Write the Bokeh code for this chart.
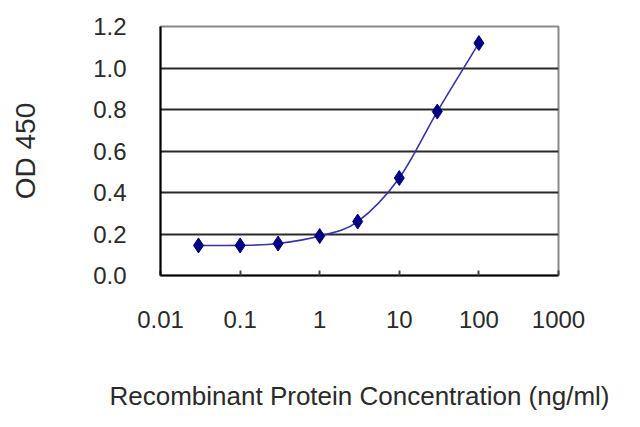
import numpy as np
from bokeh.plotting import figure
from bokeh.models import FixedTicker, CustomJSTickFormatter, Range1d
from bokeh.embed import file_html
from bokeh.resources import INLINE

conc = [0.03, 0.1, 0.3, 1, 3, 10, 30, 100]
od450 = [0.145, 0.145, 0.154, 0.19, 0.26, 0.47, 0.79, 1.12]

x_ticks = [0.01, 0.1, 1, 10, 100, 1000]
x_tick_labels = ["0.01", "0.1", "1", "10", "100", "1000"]
y_ticks = [0.0, 0.2, 0.4, 0.6, 0.8, 1.0, 1.2]
y_grid = [0.2, 0.4, 0.6, 0.8, 1.0]

FONT = "Liberation Sans"
TEXT = "#2a2a2a"
NAVY = "#000080"

p = figure(
    width=624, height=415,
    x_axis_type="log",
    x_range=Range1d(0.01, 1000), y_range=Range1d(0, 1.2),
    output_backend="svg", toolbar_location=None,
    min_border_left=160, min_border_right=66,
    min_border_top=26, min_border_bottom=140,
    x_axis_label="Recombinant Protein Concentration (ng/ml)",
    y_axis_label="OD 450",
)
p.background_fill_color = "white"
p.outline_line_color = "#8a8a8a"
p.outline_line_width = 2

# axes
for ax in (p.xaxis, p.yaxis):
    ax.axis_line_color = "black"
    ax.axis_line_width = 2
    ax.major_label_text_font = FONT
    ax.major_label_text_font_size = "24px"
    ax.major_label_text_color = TEXT
    ax.axis_label_text_font = FONT
    ax.axis_label_text_font_style = "normal"
    ax.axis_label_text_color = TEXT
    ax.minor_tick_line_color = None

p.xaxis.axis_label_text_font_size = "26px"
p.yaxis.axis_label_text_font_size = "28px"

p.xaxis.ticker = FixedTicker(ticks=x_ticks)
p.xaxis.formatter = CustomJSTickFormatter(
    args=dict(vals=x_ticks, labs=x_tick_labels),
    code="const i = vals.findIndex(v => Math.abs(Math.log10(v) - Math.log10(tick)) < 1e-6); return i >= 0 ? labs[i] : '';",
)
p.xaxis.major_tick_in = 5
p.xaxis.major_tick_out = 0
p.xaxis.major_tick_line_width = 2
p.xaxis.major_tick_line_color = "#444444"
p.xaxis.major_label_standoff = 35
p.xaxis.axis_label_standoff = 50

p.yaxis.ticker = FixedTicker(ticks=y_ticks)
p.yaxis.formatter = CustomJSTickFormatter(code="return tick.toFixed(1);")
p.yaxis.major_tick_in = 0
p.yaxis.major_tick_out = 0
p.yaxis.major_label_standoff = 34
p.yaxis.axis_label_standoff = 49

p.xgrid.grid_line_color = None
p.ygrid.ticker = FixedTicker(ticks=y_grid)
p.ygrid.grid_line_color = "#2a2a2a"
p.ygrid.grid_line_width = 2

# smooth curve through the points (Catmull-Rom in log-x space)
lx = np.log10(conc)
ly = np.array(od450)
n = len(lx)
x0, y0, x1, y1, cx0, cy0, cx1, cy1 = [], [], [], [], [], [], [], []
for i in range(n - 1):
    a = max(i - 1, 0)
    b = min(i + 2, n - 1)
    x0.append(10 ** lx[i]); y0.append(ly[i])
    x1.append(10 ** lx[i + 1]); y1.append(ly[i + 1])
    cx0.append(10 ** (lx[i] + (lx[i + 1] - lx[a]) / 6))
    cy0.append(ly[i] + (ly[i + 1] - ly[a]) / 6)
    cx1.append(10 ** (lx[i + 1] - (lx[b] - lx[i]) / 6))
    cy1.append(ly[i + 1] - (ly[b] - ly[i]) / 6)
p.bezier(x0=x0, y0=y0, x1=x1, y1=y1, cx0=cx0, cy0=cy0, cx1=cx1, cy1=cy1,
         line_color="#3535a8", line_width=1.6)

p.scatter(conc, od450, marker="diamond", size=15,
          fill_color=NAVY, line_color=NAVY)

open("out.html", "w").write(file_html(p, INLINE))
